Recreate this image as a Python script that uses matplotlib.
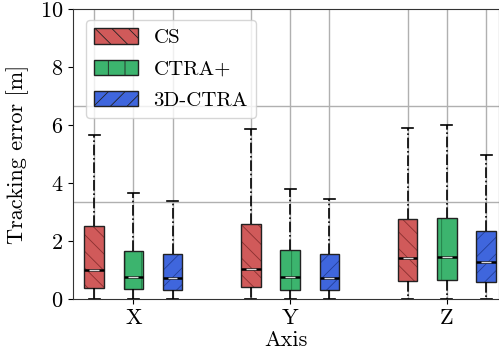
import matplotlib
matplotlib.use('Agg')
import matplotlib.pyplot as plt
from matplotlib.patches import Patch
from matplotlib.ticker import FixedLocator

plt.rcParams['font.family'] = 'cmr10'
plt.rcParams['mathtext.fontset'] = 'cm'
plt.rcParams['axes.unicode_minus'] = False
plt.rcParams['axes.formatter.use_mathtext'] = True
plt.rcParams['hatch.linewidth'] = 0.6

# data (per axis: CS, CTRA+, 3D-CTRA)
axes_names = ['X', 'Y', 'Z']
methods = ['CS', 'CTRA+', '3D-CTRA']
colors = ['#d05a5a', '#3cb46e', '#3f66dd']
hatch_edge = ['#8a3030', '#217a45', '#233f99']
hatches = ['\\\\', '|', '//']

whislo = [[0.0, 0.0, 0.0], [0.0, 0.0, 0.0], [0.0, 0.0, 0.0]]
q1 = [[0.38, 0.34, 0.31], [0.41, 0.31, 0.31], [0.62, 0.65, 0.58]]
med = [[1.00, 0.76, 0.72], [1.03, 0.76, 0.72], [1.41, 1.44, 1.27]]
q3 = [[2.52, 1.66, 1.55], [2.58, 1.70, 1.56], [2.75, 2.78, 2.33]]
whishi = [[5.67, 3.64, 3.37], [5.85, 3.78, 3.44], [5.91, 6.01, 4.95]]

group_gap = 4
offsets = [-1, 0, 1]

fig = plt.figure(figsize=(4.99, 3.58), dpi=100)
ax = fig.add_axes([0.1463, 0.165, 0.8537, 0.81])

positions_all = []
handles = []
for m in range(len(methods)):
    stats = []
    pos = []
    for g in range(len(axes_names)):
        stats.append(dict(whislo=whislo[g][m], q1=q1[g][m], med=med[g][m],
                          q3=q3[g][m], whishi=whishi[g][m], fliers=[]))
        pos.append(g * group_gap + offsets[m])
    positions_all += pos
    bp = ax.bxp(stats, positions=pos, widths=0.5, patch_artist=True,
                showfliers=False, capwidths=0.28, manage_ticks=False,
                boxprops=dict(linewidth=1.0, edgecolor='#222222'),
                whiskerprops=dict(color='black', linestyle='-.', linewidth=1.2),
                capprops=dict(color='black', linewidth=1.2),
                medianprops=dict(color='black', linewidth=1.8), zorder=3)
    for b in bp['boxes']:
        b.set_facecolor(colors[m])
        b.set_hatch(hatches[m])
        b.set_edgecolor('#222222')
        b._hatch_color = matplotlib.colors.to_rgba(hatch_edge[m])
    # lighter centre of the median line
    ax.bxp(stats, positions=pos, widths=0.25, showbox=False, showcaps=False,
           showfliers=False, whiskerprops=dict(linewidth=0), manage_ticks=False,
           medianprops=dict(color='white', linewidth=1.0, alpha=0.85), zorder=4)
    handles.append(Patch(facecolor=colors[m], edgecolor='#222222',
                         hatch=hatches[m], label=methods[m]))

ax.set_ylim(0, 10)
ax.set_xlim(-1.54, 9.33)
ax.set_yticks([0, 2, 4, 6, 8, 10])
group_pos = [g * group_gap for g in range(len(axes_names))]
ax.set_xticks(group_pos)
ax.set_xticklabels(axes_names)
ax.xaxis.set_minor_locator(FixedLocator(sorted(set(positions_all) - set(group_pos))))
ax.yaxis.set_minor_locator(FixedLocator([10 / 3, 20 / 3]))
ax.tick_params(which='minor', length=0)
ax.tick_params(labelsize=16)
ax.grid(True, axis='x', which='both', color='#b0b0b0', linewidth=1.0, zorder=0)
ax.grid(True, axis='y', which='minor', color='#b0b0b0', linewidth=1.0, zorder=0)
ax.set_axisbelow(True)
for s in ax.spines.values():
    s.set_color('#333333')

ax.set_xlabel('Axis', fontsize=16, labelpad=2)
ax.set_ylabel('Tracking error [m]', fontsize=16, labelpad=8)
ax.legend(handles=handles, loc='upper left', fontsize=15, handlelength=2.1,
          handleheight=0.75, handletextpad=0.75, labelspacing=0.6,
          bbox_to_anchor=(0.03, 0.962), borderaxespad=0.0, framealpha=0.8)

fig.savefig('out.png', dpi=100)
